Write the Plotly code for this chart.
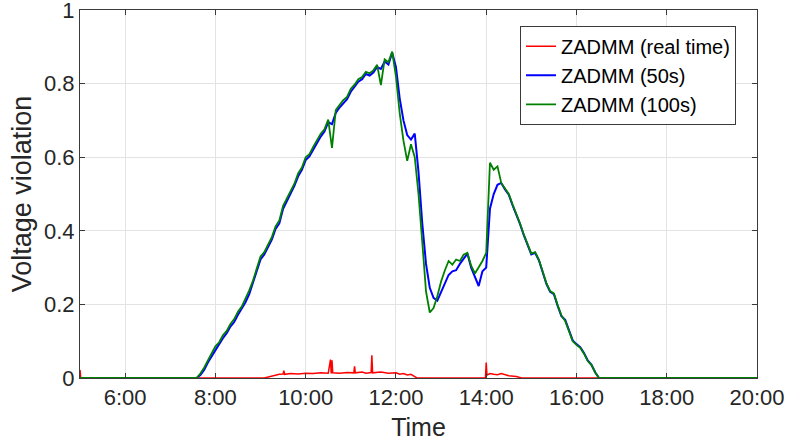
import pandas as pd
import plotly.graph_objects as go

# ---- data ----
grid_start = "07:30"
grid_end = "16:30"
edge_times = ["05:00", "20:00"]

green_vals = [
    0, 0, 0.012, 0.028, 0.048, 0.066, 0.086, 0.097, 0.116, 0.128, 0.147, 0.160,
    0.180, 0.194, 0.215, 0.238, 0.265, 0.296, 0.330, 0.342, 0.365, 0.383, 0.412, 0.428,
    0.468, 0.487, 0.506, 0.528, 0.556, 0.572, 0.600, 0.608, 0.628, 0.646, 0.664, 0.676,
    0.702, 0.625, 0.728, 0.742, 0.755, 0.764, 0.786, 0.797, 0.812, 0.818, 0.832, 0.828,
    0.836, 0.851, 0.796, 0.866, 0.858, 0.887, 0.820, 0.720, 0.645, 0.590, 0.635, 0.600,
    0.500, 0.370, 0.235, 0.178, 0.190, 0.222, 0.262, 0.292, 0.318, 0.308, 0.322, 0.318,
    0.335, 0.340, 0.305, 0.284, 0.300, 0.318, 0.340, 0.585, 0.566, 0.575, 0.530, 0.515,
    0.500, 0.472, 0.447, 0.420, 0.390, 0.365, 0.338, 0.342, 0.322, 0.290, 0.258, 0.236,
    0.230, 0.198, 0.170, 0.155, 0.130, 0.100, 0.090, 0.082, 0.066, 0.046, 0.035, 0.015,
    0,
]

blue_vals = [
    0, 0, 0.008, 0.022, 0.042, 0.060, 0.078, 0.092, 0.108, 0.122, 0.140, 0.152,
    0.172, 0.188, 0.206, 0.228, 0.258, 0.288, 0.322, 0.336, 0.358, 0.376, 0.405, 0.420,
    0.460, 0.480, 0.498, 0.522, 0.548, 0.566, 0.592, 0.602, 0.620, 0.640, 0.656, 0.670,
    0.695, 0.690, 0.720, 0.735, 0.748, 0.758, 0.778, 0.790, 0.805, 0.812, 0.826, 0.822,
    0.830, 0.845, 0.840, 0.860, 0.852, 0.884, 0.845, 0.760, 0.700, 0.660, 0.648, 0.664,
    0.560, 0.420, 0.310, 0.245, 0.218, 0.210, 0.232, 0.255, 0.280, 0.290, 0.293, 0.310,
    0.325, 0.338, 0.300, 0.275, 0.250, 0.290, 0.300, 0.460, 0.500, 0.525, 0.530, 0.512,
    0.498, 0.470, 0.445, 0.418, 0.388, 0.362, 0.336, 0.340, 0.320, 0.288, 0.256, 0.234,
    0.228, 0.196, 0.168, 0.158, 0.132, 0.102, 0.092, 0.084, 0.068, 0.048, 0.036, 0.015,
    0,
]

red_times = [
    "05:00", "05:01", "09:05", "09:10", "09:15", "09:20", "09:25", "09:30", "09:31", "09:32",
    "09:40", "09:50", "10:00", "10:10", "10:20", "10:30", "10:33", "10:34", "10:35", "10:36",
    "10:45", "10:55", "11:04", "11:05", "11:06", "11:15", "11:20", "11:27", "11:28", "11:29",
    "11:40", "11:50", "12:00", "12:05", "12:10", "12:15", "12:20", "12:25", "12:28", "13:59",
    "14:00", "14:01", "14:05", "14:10", "14:15", "14:20", "14:30", "14:40", "14:47", "20:00",
]
red_vals = [
    0.022, 0, 0, 0.003, 0.006, 0.008, 0.010, 0.011, 0.020, 0.010,
    0.012, 0.011, 0.013, 0.012, 0.014, 0.013, 0.050, 0.012, 0.048, 0.014,
    0.013, 0.015, 0.014, 0.032, 0.014, 0.016, 0.013, 0.015, 0.062, 0.014,
    0.016, 0.013, 0.014, 0.010, 0.012, 0.008, 0.010, 0.004, 0, 0,
    0.042, 0.008, 0.012, 0.010, 0.009, 0.012, 0.006, 0.004, 0, 0,
]

series_names = ["ZADMM (real time)", "ZADMM (50s)", "ZADMM (100s)"]
series_colors = ["#ff0000", "#0000ff", "#008000"]

x_tick_hours = [6, 8, 10, 12, 14, 16, 18, 20]
x_tick_labels = ["6:00", "8:00", "10:00", "12:00", "14:00", "16:00", "18:00", "20:00"]
y_tick_vals = [0, 0.2, 0.4, 0.6, 0.8, 1]
y_tick_labels = ["0", "0.2", "0.4", "0.6", "0.8", "1"]


def to_hours(t):
    h, m = t.split(":")
    return int(h) + int(m) / 60.0


grid = [t.strftime("%H:%M") for t in pd.date_range("2000-01-01 " + grid_start,
                                                    "2000-01-01 " + grid_end, freq="5min")]
assert len(grid) == len(green_vals) == len(blue_vals)
assert len(red_times) == len(red_vals)

grid_x = [to_hours(edge_times[0])] + [to_hours(t) for t in grid] + [to_hours(edge_times[1])]
green_y = [0] + green_vals + [0]
blue_y = [0] + blue_vals + [0]
red_x = [to_hours(t) for t in red_times]

font_family = "Liberation Sans, Arial, sans-serif"
txt_color = "#262626"

fig = go.Figure()
fig.add_trace(go.Scatter(x=red_x, y=red_vals, mode="lines", name=series_names[0],
                         line=dict(color=series_colors[0], width=1.5)))
fig.add_trace(go.Scatter(x=grid_x, y=blue_y, mode="lines", name=series_names[1],
                         line=dict(color=series_colors[1], width=2)))
fig.add_trace(go.Scatter(x=grid_x, y=green_y, mode="lines", name=series_names[2],
                         line=dict(color=series_colors[2], width=1.8)))

axis_common = dict(
    showgrid=True, gridcolor="#e3e3e3", gridwidth=1,
    showline=True, linecolor="#3a3a3a", linewidth=1, mirror="ticks",
    ticks="inside", ticklen=5, tickcolor="#3a3a3a", tickwidth=1,
    zeroline=False, ticklabeloverflow="allow", automargin=False,
    tickfont=dict(family=font_family, size=22, color=txt_color),
)

fig.update_layout(
    width=789, height=447,
    margin=dict(l=80, r=32, t=10, b=69, autoexpand=False),
    paper_bgcolor="white", plot_bgcolor="white",
    font=dict(family=font_family, color=txt_color),
    showlegend=True,
    legend=dict(
        x=0.969, y=0.957, xanchor="right", yanchor="top",
        bgcolor="white", bordercolor="#3a3a3a", borderwidth=1,
        font=dict(family=font_family, size=20, color="#000000"),
        tracegroupgap=0, itemwidth=30,
    ),
    xaxis=dict(
        range=[5, 20], tickvals=x_tick_hours, ticktext=x_tick_labels,
        title=dict(text="Time", font=dict(family=font_family, size=25, color=txt_color), standoff=9),
        **axis_common,
    ),
    yaxis=dict(
        range=[0, 1], tickvals=y_tick_vals, ticktext=y_tick_labels,
        title=dict(text="Voltage violation", font=dict(family=font_family, size=27, color=txt_color), standoff=4),
        **axis_common,
    ),
)

fig.write_html("out.html", config={"displayModeBar": False},
               post_script="document.body.style.margin='0px';")
